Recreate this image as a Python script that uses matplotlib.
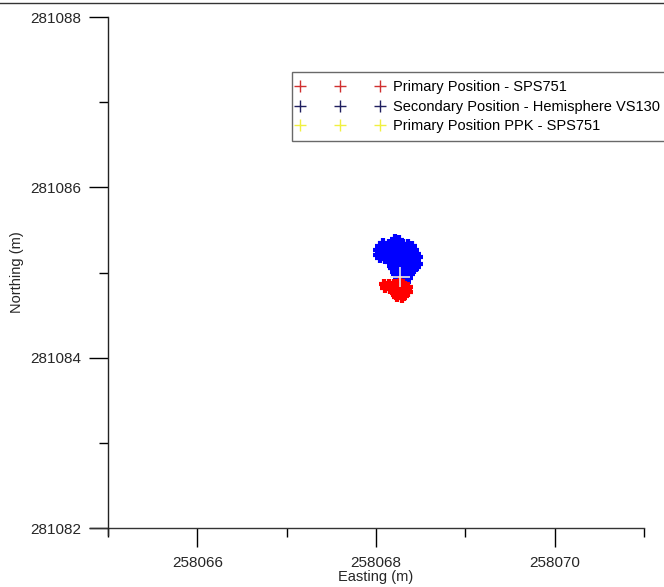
import matplotlib.pyplot as plt
import numpy as np
from matplotlib.lines import Line2D
from matplotlib.legend_handler import HandlerLine2D

plt.rcParams['font.family'] = ['Liberation Sans', 'DejaVu Sans']

# %% data (easting / northing in m)
prim_e = [258068.09, 258068.14, 258068.20, 258068.25, 258068.30,
          258068.12, 258068.18, 258068.23, 258068.28, 258068.32,
          258068.10, 258068.16, 258068.22, 258068.28, 258068.33, 258068.36,
          258068.20, 258068.25, 258068.30, 258068.35,
          258068.21, 258068.27, 258068.31, 258068.36,
          258068.22, 258068.27, 258068.31,
          258068.24, 258068.29, 258068.27]
prim_n = [281084.86, 281084.87, 281084.86, 281084.85, 281084.86,
          281084.84, 281084.84, 281084.85, 281084.84, 281084.84,
          281084.82, 281084.81, 281084.82, 281084.82, 281084.81, 281084.83,
          281084.79, 281084.79, 281084.78, 281084.79,
          281084.76, 281084.76, 281084.75, 281084.77,
          281084.73, 281084.73, 281084.72,
          281084.71, 281084.70, 281084.90]

sec_e = [258068.08, 258068.14, 258068.19, 258068.24, 258068.30, 258068.36, 258068.21, 258068.26,
         258068.05, 258068.11, 258068.17, 258068.23, 258068.28, 258068.34, 258068.40,
         258068.02, 258068.08, 258068.13, 258068.19, 258068.25, 258068.31, 258068.37, 258068.43,
         258068.05, 258068.10, 258068.16, 258068.22, 258068.28, 258068.33, 258068.39, 258068.45,
         258068.02, 258068.07, 258068.13, 258068.19, 258068.25, 258068.30, 258068.36, 258068.42, 258068.47,
         258068.04, 258068.10, 258068.16, 258068.22, 258068.28, 258068.34, 258068.40, 258068.45,
         258068.16, 258068.21, 258068.27, 258068.33, 258068.38, 258068.44, 258068.47,
         258068.18, 258068.23, 258068.29, 258068.35, 258068.40, 258068.45,
         258068.19, 258068.25, 258068.31, 258068.36, 258068.42,
         258068.21, 258068.27, 258068.32, 258068.37,
         258068.22, 258068.28, 258068.33, 258068.38,
         258068.25, 258068.31, 258068.36,
         258068.27, 258068.33, 258068.30, 258068.34]
sec_n = [281085.35, 281085.34, 281085.36, 281085.35, 281085.34, 281085.33, 281085.39, 281085.38,
         281085.31, 281085.31, 281085.32, 281085.31, 281085.31, 281085.30, 281085.31,
         281085.27, 281085.28, 281085.27, 281085.28, 281085.27, 281085.28, 281085.27, 281085.26,
         281085.24, 281085.24, 281085.23, 281085.24, 281085.24, 281085.23, 281085.24, 281085.22,
         281085.20, 281085.21, 281085.20, 281085.19, 281085.20, 281085.21, 281085.20, 281085.19, 281085.18,
         281085.17, 281085.16, 281085.16, 281085.17, 281085.16, 281085.16, 281085.15, 281085.15,
         281085.12, 281085.13, 281085.12, 281085.12, 281085.13, 281085.11, 281085.10,
         281085.08, 281085.08, 281085.09, 281085.08, 281085.08, 281085.07,
         281085.05, 281085.04, 281085.05, 281085.06, 281085.04,
         281085.01, 281085.01, 281085.02, 281085.01,
         281084.98, 281084.99, 281084.97, 281084.98,
         281084.95, 281084.95, 281084.94,
         281084.92, 281084.93, 281084.88, 281084.89]

ppk_e = [258068.27]
ppk_n = [281084.95]

labels = ['Primary Position - SPS751',
          'Secondary Position - Hemisphere VS130',
          'Primary Position PPK - SPS751']
leg_col = ['#d03030', '#202060', '#f0f040']

# %% plot
fig = plt.figure(figsize=(6.64, 5.87), dpi=100)
ax = fig.add_axes([108/664, 59/587, 536/664, 511/587])

ax.plot(sec_e, sec_n, ls='none', marker='+', ms=7.5, mew=3, color='#0000ff', zorder=3)
ax.plot(prim_e, prim_n, ls='none', marker='+', ms=7.5, mew=3, color='#ff0000', zorder=4)
ax.plot(ppk_e, ppk_n, ls='none', marker='+', ms=14, mew=1.2, color='#e8e8e8', zorder=5)

ax.set_xlim(258065, 258071)
ax.set_ylim(281082, 281088)
ax.set_xticks([258066, 258068, 258070])
ax.set_xticks([258065, 258067, 258069, 258071], minor=True)
ax.set_yticks([281082, 281084, 281086, 281088])
ax.set_yticks([281083, 281085, 281087], minor=True)
ax.set_xticklabels(['258066', '258068', '258070'])
ax.set_yticklabels(['281082', '281084', '281086', '281088'])
ax.tick_params(which='major', length=13.5, width=1, labelsize=11,
               labelcolor='#262626', pad=7)
ax.tick_params(which='minor', length=6.5, width=1)
ax.tick_params(axis='y', which='major', pad=6)

for s in ax.spines.values():
    s.set_visible(False)
ax.add_line(Line2D([-18/536, 1], [0, 0], transform=ax.transAxes,
                   color='#333333', lw=1, clip_on=False))
ax.add_line(Line2D([0, 0], [-7/511, 1], transform=ax.transAxes,
                   color='#222222', lw=1, clip_on=False))

ax.set_xlabel('Easting (m)', fontsize=10.5, color='#262626', labelpad=0)
ax.set_ylabel('Northing (m)', fontsize=10.5, color='#262626', labelpad=4)

handles = [Line2D([], [], ls='none', marker='+', ms=8, mew=1, color=c) for c in leg_col]
leg = fig.legend(handles, labels, loc='upper left', bbox_to_anchor=(292/664, 1-72/587),
                 numpoints=3, fontsize=10.5, handlelength=5.45, handletextpad=0.88,
                 borderpad=0.58, borderaxespad=0, labelspacing=0.36, fancybox=False,
                 handler_map={Line2D: HandlerLine2D(marker_pad=0)})
leg.get_frame().set_edgecolor('#444444')
leg.get_frame().set_linewidth(1)

fig.add_artist(Line2D([0, 1], [1-3/587, 1-3/587], color='#333333', lw=1))

plt.savefig('out.png', dpi=100)
